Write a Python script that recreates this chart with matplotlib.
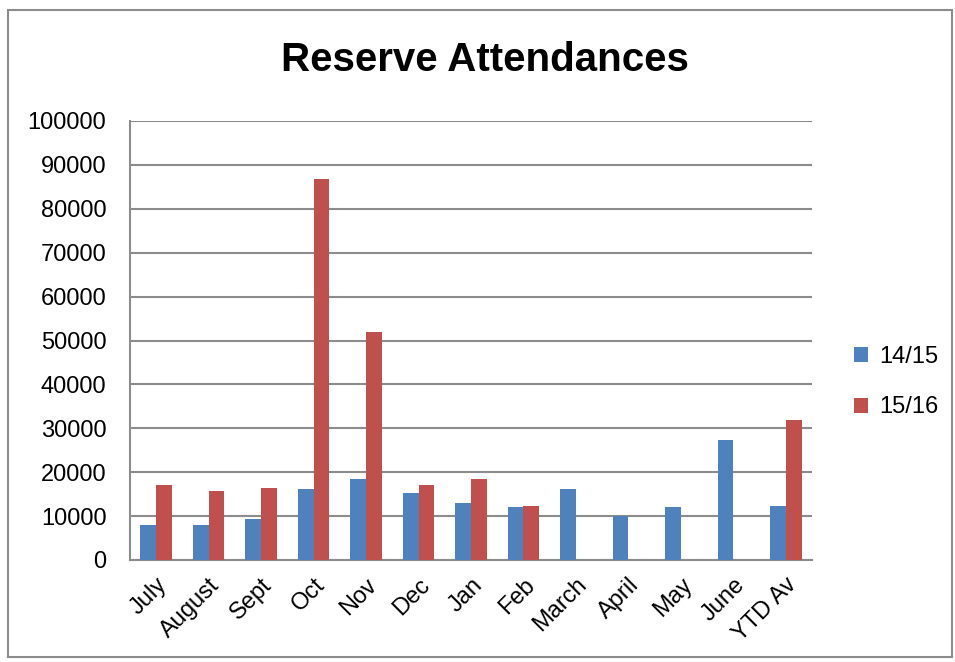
import matplotlib.pyplot as plt
import numpy as np
from matplotlib.patches import Rectangle

plt.rcParams['font.family'] = ['Liberation Sans', 'DejaVu Sans']

months = ["July", "August", "Sept", "Oct", "Nov", "Dec", "Jan", "Feb",
          "March", "April", "May", "June", "YTD Av"]
y1415 = [8000, 8000, 9300, 16100, 18400, 15200, 12900, 12000,
         16100, 10000, 12000, 27400, 12400]
y1516 = [17000, 15700, 16500, 86800, 51900, 17000, 18400, 12400,
         0, 0, 0, 0, 32000]

fig = plt.figure(figsize=(9.55, 6.62), dpi=100)
ax = fig.add_axes([130 / 955, 1 - 560 / 662, 682 / 955, 439 / 662])

x = np.arange(len(months))
w = 0.3
ax.bar(x - w / 2, y1415, width=w, color="#4F81BD", label="14/15", zorder=3)
ax.bar(x + w / 2, y1516, width=w, color="#C0504D", label="15/16", zorder=3)

ax.set_xlim(-0.5, len(months) - 0.5)
ax.set_ylim(0, 100000)
ax.set_yticks(np.arange(0, 100001, 10000))
ax.yaxis.grid(True, color="#8c8c8c", linewidth=1.5, zorder=0)
ax.set_xticks(x)
ax.set_xticklabels(months, rotation=45, ha="right", rotation_mode="anchor")
ax.tick_params(axis="both", length=0, labelsize=17)
ax.tick_params(axis="y", pad=17)
ax.tick_params(axis="x", pad=10)

for s in ["top", "right"]:
    ax.spines[s].set_visible(False)
for s in ["left", "bottom"]:
    ax.spines[s].set_color("#8c8c8c")
    ax.spines[s].set_linewidth(1.5)

fig.text(485 / 955, 1 - 60 / 662, "Reserve Attendances", ha="center",
         va="center", fontsize=29, fontweight="bold")

ax.legend(loc="center left", bbox_to_anchor=(1.03, 0.405), frameon=False,
          fontsize=17, handlelength=0.6, handleheight=0.6,
          handletextpad=0.5, labelspacing=1.2)

fig.patches.append(Rectangle((8 / 955, 5 / 662), 944 / 955, 647 / 662,
                             transform=fig.transFigure, fill=False,
                             edgecolor="#8c8c8c", linewidth=1.5))

fig.savefig("out.png", dpi=100)
